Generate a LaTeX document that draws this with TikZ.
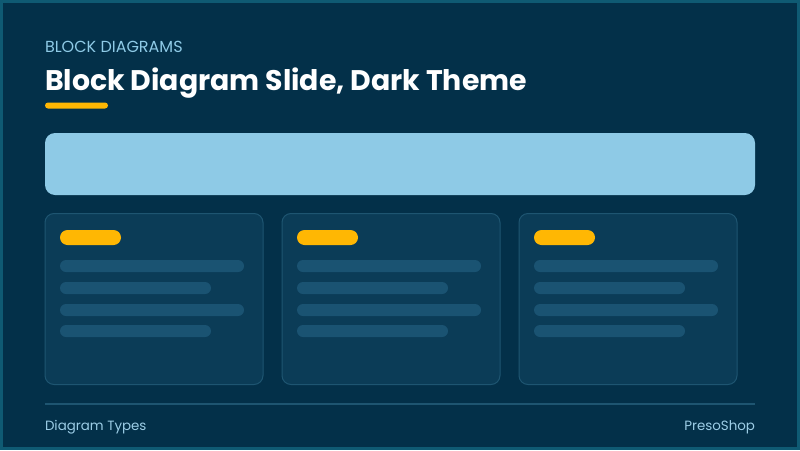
\documentclass[tikz,border=0pt]{standalone}
\usepackage{fontspec}
\setmainfont{Poppins}
\definecolor{bgnavy}{HTML}{033049}
\definecolor{frameteal}{HTML}{0F5A73}
\definecolor{kicker}{HTML}{8ECAE6}
\definecolor{banner}{HTML}{8ECAE6}
\definecolor{accent}{HTML}{FFB703}
\definecolor{cardfill}{HTML}{0B3C57}
\definecolor{cardline}{HTML}{1E5571}
\definecolor{barfill}{HTML}{1A5372}
\definecolor{footline}{HTML}{1E5571}
\definecolor{foottext}{HTML}{9CCDE6}
\tikzset{
  txt/.style={inner sep=0pt, outer sep=0pt, anchor=base west},
  card/.style={fill=cardfill, draw=cardline, line width=1pt, rounded corners=9pt},
  pill/.style={fill=accent, rounded corners=7.5pt},
  bar/.style={fill=barfill, rounded corners=6pt},
}
\begin{document}
\begin{tikzpicture}[x=1pt,y=-1pt]
\useasboundingbox (0,0) rectangle (800,450);
\fill[bgnavy] (0,0) rectangle (800,450);
\draw[frameteal, line width=3pt] (1.5,1.5) rectangle (798.5,448.5);
% header
\node[txt, text=kicker, font=\fontsize{16}{18}\selectfont] (kick) at (45,52) {BLOCK DIAGRAMS};
\node[txt, text=white, font=\fontsize{28.35}{32}\selectfont\bfseries] (title) at (45,90) {Block Diagram Slide, Dark Theme};
\fill[accent, rounded corners=3pt] (45,102.5) rectangle (108,108.5);
% banner
\fill[banner, rounded corners=10pt] (45,133) rectangle (755,195);
% cards
\foreach \cx in {45,282,519} {
  \draw[card] (\cx,213.5) rectangle ++(218,171);
  \fill[pill] (\cx+15,230) rectangle ++(61,15);
  \fill[bar] (\cx+15,260) rectangle ++(184,12);
  \fill[bar] (\cx+15,282) rectangle ++(151,12);
  \fill[bar] (\cx+15,304) rectangle ++(184,12);
  \fill[bar] (\cx+15,325) rectangle ++(151,12);
}
% footer
\draw[footline, line width=1.5pt] (45,404) -- (755,404);
\node[txt, text=foottext, font=\fontsize{13.4}{15}\selectfont] (fl) at (45,430) {Diagram Types};
\node[txt, anchor=base east, text=foottext, font=\fontsize{13.4}{15}\selectfont] (fr) at (755,430) {PresoShop};
\end{tikzpicture}
\end{document}
